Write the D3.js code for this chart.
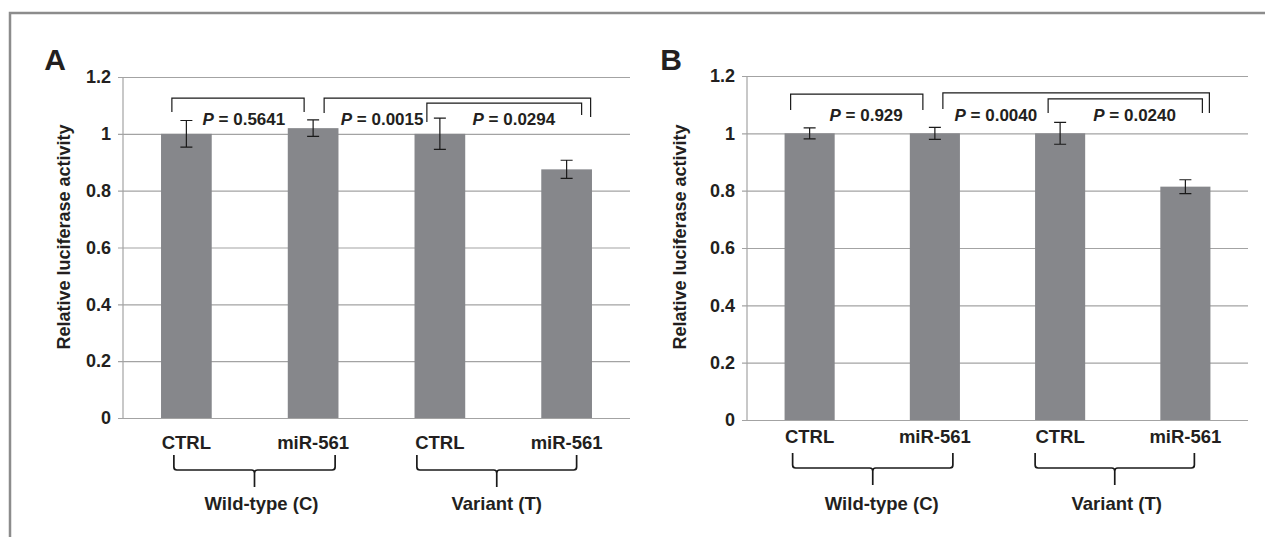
<!DOCTYPE html>
<html>
<head>
<meta charset="utf-8">
<script src="https://cdn.jsdelivr.net/npm/d3@7"></script>
<style>
body { margin: 0; background: #fff; }
svg text { font-family: "Liberation Sans", Arial, sans-serif; font-weight: bold; fill: #231f20; }
</style>
</head>
<body>
<div id="chart"></div>
<script>
let width = 1265;
let height = 537;

// Data
let categories = ["CTRL", "miR-561", "CTRL", "miR-561"];
let groups = ["Wild-type (C)", "Variant (T)"];
let yTicks = [0, 0.2, 0.4, 0.6, 0.8, 1, 1.2];

let valuesA = [1.00, 1.02, 1.00, 0.875];
let errorsA = [0.047, 0.029, 0.055, 0.032];
let pValuesA = ["0.5641", "0.0015", "0.0294"];

let valuesB = [1.00, 1.00, 1.00, 0.814];
let errorsB = [0.019, 0.021, 0.038, 0.024];
let pValuesB = ["0.929", "0.0040", "0.0240"];

// Layout of each panel (annotation positions are offsets from bar centres, heights in data units)
let panels = [
    {
        letter: "A", values: valuesA, errors: errorsA, pValues: pValuesA,
        left: 123, right: 630, top: 77, bottom: 418,
        letterX: 55, labelX: 64, catY: 449,
        braceTop: 455, braceH: 470, braceSpike: 487, groupY: 510,
        braces: [[0, -12.5, 1, 22, 7], [2, -23, 3, 10, 0]],
        brackets: [
            {a: 0, da: -14.5, b: 1, db: -9, top: 1.126, legA: 1.077, legB: 1.077},
            {a: 1, da: 11, b: 3, db: 24, top: 1.126, legA: 1.073, legB: 1.059},
            {a: 2, da: -13, b: 3, db: 15, top: 1.108, legA: 1.042, legB: 1.066}
        ],
        pText: [[0, 57.5], [1, 69], [2, 74]], pY: 1.031
    },
    {
        letter: "B", values: valuesB, errors: errorsB, pValues: pValuesB,
        left: 747, right: 1248, top: 76, bottom: 420,
        letterX: 671, labelX: 680, catY: 443,
        braceTop: 453, braceH: 468, braceSpike: 485, groupY: 510,
        braces: [[0, -17, 1, 18, 9], [2, -25, 3, 9, 2]],
        brackets: [
            {a: 0, da: -19, b: 1, db: -12, top: 1.137, legA: 1.081, legB: 1.081},
            {a: 1, da: 8, b: 3, db: 24, top: 1.141, legA: 1.085, legB: 1.071},
            {a: 2, da: -12, b: 3, db: 17, top: 1.120, legA: 1.071, legB: 1.071}
        ],
        pText: [[0, 56.5], [1, 61], [2, 74.5]], pY: 1.043
    }
];

let svg = d3.select("#chart")
    .append("svg")
    .attr("width", width)
    .attr("height", height);

// outer frame (top and left edges visible)
svg.append("path")
    .attr("d", "M10," + height + " L10,13 L" + width + ",13")
    .attr("fill", "none")
    .attr("stroke", "#8c8c8c")
    .attr("stroke-width", 2.5);

panels.forEach(function(p) {
    let g = svg.append("g");
    let idx = d3.range(categories.length);

    let x = d3.scaleBand()
        .domain(idx)
        .range([p.left, p.right])
        .paddingInner(0.6)
        .paddingOuter(0.3);

    let y = d3.scaleLinear()
        .domain([0, 1.2])
        .range([p.bottom, p.top]);

    let cx = function(i) { return x(i) + x.bandwidth() / 2; };

    // gridlines + y axis
    let yAxis = d3.axisLeft(y)
        .tickValues(yTicks)
        .tickSize(-(p.right - p.left))
        .tickFormat(d3.format("~g"));

    let ya = g.append("g")
        .attr("transform", "translate(" + p.left + ",0)")
        .call(yAxis);
    ya.select(".domain").remove();
    ya.selectAll(".tick line")
        .attr("x1", -5)
        .attr("stroke", "#a3a3a3")
        .attr("stroke-width", 1.2);
    ya.selectAll(".tick text")
        .attr("x", -12)
        .style("font-size", "18px")
        .style("font-family", "'Liberation Sans', Arial, sans-serif")
        .style("font-weight", "bold")
        .attr("fill", "#231f20");

    g.append("line")
        .attr("x1", p.left).attr("x2", p.left)
        .attr("y1", y(0)).attr("y2", y(1.2))
        .attr("stroke", "#a3a3a3")
        .attr("stroke-width", 1.2);

    // bars
    g.selectAll(".bar")
        .data(p.values)
        .enter()
        .append("rect")
        .attr("class", "bar")
        .attr("x", function(d, i) { return x(i); })
        .attr("width", x.bandwidth())
        .attr("y", function(d) { return y(d); })
        .attr("height", function(d) { return y(0) - y(d); })
        .attr("fill", "#86878b");

    // error bars
    p.values.forEach(function(v, i) {
        let e = p.errors[i];
        let xc = cx(i);
        g.append("path")
            .attr("d", "M" + (xc - 6) + "," + y(v + e) + "H" + (xc + 6) +
                "M" + xc + "," + y(v + e) + "V" + y(v - e) +
                "M" + (xc - 6) + "," + y(v - e) + "H" + (xc + 6))
            .attr("fill", "none")
            .attr("stroke", "#1a1a1a")
            .attr("stroke-width", 1.2);
    });

    // category labels
    g.selectAll(".cat")
        .data(categories)
        .enter()
        .append("text")
        .attr("x", function(d, i) { return cx(i); })
        .attr("y", p.catY)
        .attr("text-anchor", "middle")
        .style("font-size", "18.5px")
        .text(function(d) { return d; });

    // braces under the groups
    p.braces.forEach(function(b, k) {
        let x1 = cx(b[0]) + b[1];
        let x2 = cx(b[2]) + b[3];
        let mid = (x1 + x2) / 2;
        let h = p.braceH, t = p.braceTop, s = p.braceSpike;
        let d = "M" + x1 + "," + t + " L" + x1 + "," + (h - 3) +
            " Q" + x1 + "," + h + " " + (x1 + 3) + "," + h +
            " L" + (mid - 3) + "," + h +
            " Q" + mid + "," + h + " " + mid + "," + (h + 3) +
            " L" + mid + "," + s +
            " M" + mid + "," + (h + 3) +
            " Q" + mid + "," + h + " " + (mid + 3) + "," + h +
            " L" + (x2 - 3) + "," + h +
            " Q" + x2 + "," + h + " " + x2 + "," + (h - 3) +
            " L" + x2 + "," + t;
        g.append("path")
            .attr("d", d)
            .attr("fill", "none")
            .attr("stroke", "#1a1a1a")
            .attr("stroke-width", 1.7);
        g.append("text")
            .attr("x", mid + b[4])
            .attr("y", p.groupY)
            .attr("text-anchor", "middle")
            .style("font-size", "18.5px")
            .text(groups[k]);
    });

    // significance brackets
    p.brackets.forEach(function(br) {
        let xa = cx(br.a) + br.da;
        let xb = cx(br.b) + br.db;
        g.append("path")
            .attr("d", "M" + xa + "," + y(br.legA) + "V" + y(br.top) + "H" + xb + "V" + y(br.legB))
            .attr("fill", "none")
            .attr("stroke", "#1a1a1a")
            .attr("stroke-width", 1.2);
    });

    p.pText.forEach(function(pt, k) {
        let t = g.append("text")
            .attr("x", cx(pt[0]) + pt[1])
            .attr("y", y(p.pY))
            .attr("text-anchor", "middle")
            .style("font-size", "17px");
        t.append("tspan").style("font-style", "italic").text("P");
        t.append("tspan").text(" = " + p.pValues[k]);
    });

    // y label
    g.append("text")
        .attr("transform", "translate(" + p.labelX + "," + 237 + ") rotate(-90)")
        .attr("text-anchor", "middle")
        .attr("dy", "0.35em")
        .style("font-size", "18px")
        .text("Relative luciferase activity");

    // panel letter
    g.append("text")
        .attr("x", p.letterX)
        .attr("y", 70)
        .attr("text-anchor", "middle")
        .style("font-size", "30px")
        .text(p.letter);
});
</script>
</body>
</html>
